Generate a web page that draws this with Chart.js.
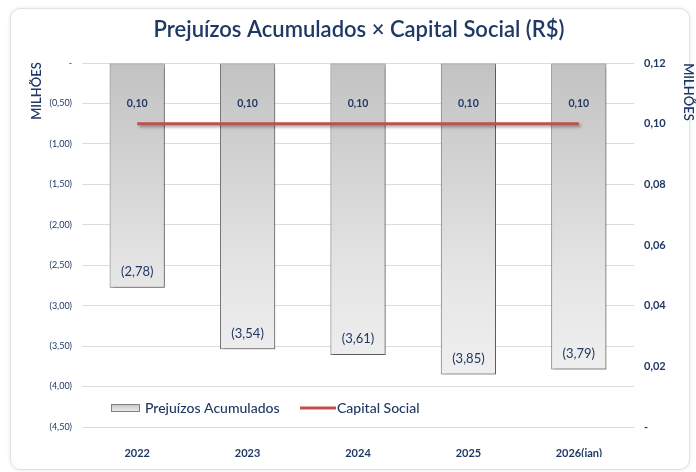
<!DOCTYPE html>
<html><head><meta charset="utf-8">
<script src="https://cdn.jsdelivr.net/npm/chart.js@4.4.1/dist/chart.umd.min.js"></script>
<style>html,body{margin:0;padding:0;background:#fff}#wrap{width:696px;height:472px;position:relative}</style>
</head><body><div id="wrap"><canvas id="c" width="696" height="472"></canvas></div>
<script>
const categories = ["2022","2023","2024","2025","2026(jan)"];
const prejuizos = [-2.78,-3.54,-3.61,-3.85,-3.79];
const capitalSocial = [0.10,0.10,0.10,0.10,0.10];
const leftTicks = {min:-4.5,max:0,step:0.5};
const rightTicks = {min:0,max:0.12,step:0.02};
const titleText = "Prejuízos Acumulados × Capital Social (R$)";
const NAVY = "#1f3864";
const FONT = "Lato, 'Open Sans', sans-serif";

function fmt(v,d){return v.toFixed(d).replace('.',',');}

const decor = {
  id:'decor',
  beforeDraw(chart){
    const c=chart.ctx; c.save();
    c.fillStyle='#fff'; c.fillRect(0,0,chart.width,chart.height);
    c.shadowColor='rgba(0,0,0,0.12)'; c.shadowBlur=4;
    c.strokeStyle='#e2e2e2'; c.lineWidth=1;
    c.beginPath(); c.roundRect(10.5,8.5,679,461,10); c.fillStyle='#fff'; c.fill(); c.shadowColor='transparent'; c.stroke();
    c.restore();
  },
  afterDraw(chart){
    const c=chart.ctx; c.save();
    c.fillStyle=NAVY; c.textAlign='center'; c.textBaseline='middle';
    c.font="600 22px "+FONT; c.fillText(titleText,359,30);
    c.font="600 13px "+FONT;
    c.save(); c.translate(37,91); c.rotate(-Math.PI/2); c.fillText("MILHÕES",0,0); c.restore();
    c.save(); c.translate(688,92); c.rotate(Math.PI/2); c.fillText("MILHÕES",0,0); c.restore();
    // data labels
    const bm=chart.getDatasetMeta(0), lm=chart.getDatasetMeta(1);
    c.font="13px "+FONT;
    bm.data.forEach((el,i)=>{c.fillText("("+fmt(Math.abs(prejuizos[i]),2)+")",el.x,el.y-16);});
    c.font="bold 10.5px "+FONT;
    lm.data.forEach((el,i)=>{c.fillText(fmt(capitalSocial[i],2),el.x,el.y-20);});
    // legend
    const ly=408;
    const g=c.createLinearGradient(0,ly-4,0,ly+4); g.addColorStop(0,'#c4c4c4'); g.addColorStop(1,'#eeeeee');
    c.fillStyle=g; c.fillRect(111,ly-4,29,8); c.strokeStyle='#808080'; c.lineWidth=1; c.strokeRect(111.5,ly-3.5,28,7);
    c.fillStyle=NAVY; c.textAlign='left'; c.font="500 14px "+FONT;
    c.fillText("Prejuízos Acumulados",145,ly);
    c.strokeStyle='#c0504d'; c.lineWidth=3; c.beginPath(); c.moveTo(300,ly); c.lineTo(336,ly); c.stroke();
    c.fillText("Capital Social",337,ly);
    c.restore();
  },
  beforeDatasetDraw(chart,args){
    const c=chart.ctx; c.save();
    c.shadowColor='rgba(0,0,0,0.35)'; c.shadowBlur=3; c.shadowOffsetX=2; c.shadowOffsetY=2;
  },
  afterDatasetDraw(chart){chart.ctx.restore();}
};

function barGrad(ctx){
  const ca=ctx.chart.chartArea; if(!ca) return '#ddd';
  const g=ctx.chart.ctx.createLinearGradient(0,ca.top,0,ca.bottom);
  g.addColorStop(0,'#c2c2c2'); g.addColorStop(0.6,'#e6e6e6'); g.addColorStop(1,'#f4f4f4');
  return g;
}

new Chart(document.getElementById('c'),{
  data:{labels:categories,datasets:[
    {type:'bar',label:'Prejuízos Acumulados',data:prejuizos,yAxisID:'y',order:2,
     backgroundColor:barGrad,borderColor:'#777777',borderWidth:1,borderSkipped:false,
     barPercentage:0.5,categoryPercentage:1},
    {type:'line',label:'Capital Social',data:capitalSocial,yAxisID:'y1',order:1,
     borderColor:'#c0504d',borderWidth:3,pointRadius:0,fill:false}
  ]},
  options:{responsive:false,animation:false,devicePixelRatio:1,
    layout:{padding:{left:10,right:10,top:63,bottom:15}},
    plugins:{legend:{display:false},tooltip:{enabled:false}},
    scales:{
      x:{grid:{display:false},border:{display:false},
         ticks:{color:NAVY,font:{family:FONT,size:11,weight:'bold'},padding:12,maxRotation:0},
         afterFit(s){s.height=30;}},
      y:{position:'left',min:leftTicks.min,max:leftTicks.max,
         border:{display:false},grid:{color:'#dcdcdc',drawTicks:false},
         ticks:{stepSize:leftTicks.step,color:NAVY,font:{family:FONT,size:9},padding:10,
           callback:v=>v===0?'-':'('+fmt(Math.abs(v),2)+')'},
         afterFit(s){s.width=72;}},
      y1:{position:'right',min:rightTicks.min,max:rightTicks.max,
         border:{display:false},grid:{display:false,drawTicks:false},
         ticks:{stepSize:rightTicks.step,color:NAVY,font:{family:FONT,size:11,weight:'bold'},padding:10,
           callback:v=>Math.abs(v)<1e-9?'-':fmt(v,2)},
         afterFit(s){s.width=52;}}
    }},
  plugins:[decor]
});
</script></body></html>
